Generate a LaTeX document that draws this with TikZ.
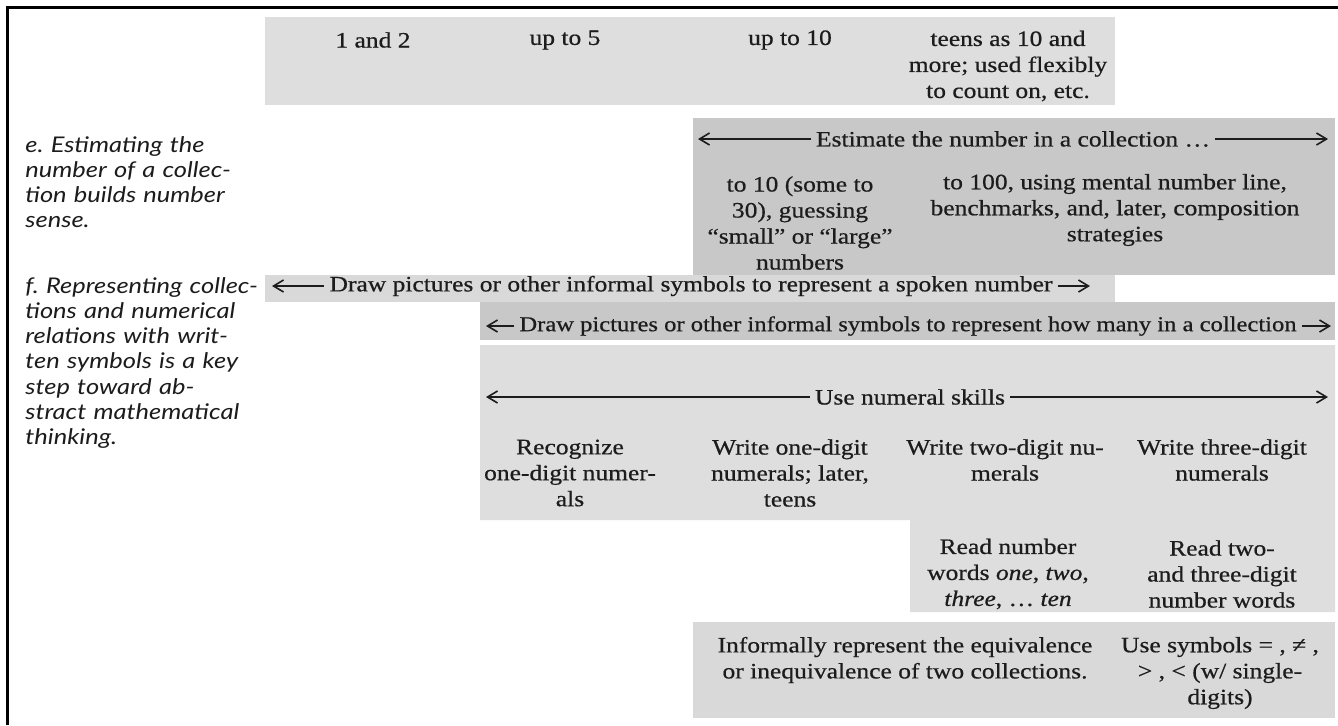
\documentclass[tikz,border=0pt]{standalone}
\usepackage{fontspec}
\setmainfont{Liberation Serif}[FakeStretch=1.16,FakeBold=0.6]
\newfontfamily\labfont{Lato}[FakeStretch=1.18]
\usetikzlibrary{arrows.meta}
\definecolor{bandA}{HTML}{DEDEDE}
\definecolor{bandB}{HTML}{C8C8C8}
\definecolor{bandC}{HTML}{D9D9D9}
\definecolor{ink}{HTML}{1C1C1C}
\tikzset{
  band/.style={fill=#1, draw=none},
  txt/.style={align=center, text=ink, font=\fontsize{11}{13}\selectfont, inner sep=0pt},
  arrtxt/.style={txt, inner xsep=2.5pt},
  lab/.style={align=left, text=ink, font=\labfont\itshape\fontsize{10.8}{12.6}\selectfont, inner sep=0pt, anchor=north west, text width=130pt},
  arr/.style={draw=ink, line width=0.8pt, -{Straight Barb[length=5pt,width=6pt]}},
}
\begin{document}
\begin{tikzpicture}[x=0.5pt,y=-0.5pt]
\useasboundingbox (0,0) rectangle (1338,725);
\fill[white] (0,0) rectangle (1338,725);
% frame (top and left edges)
\draw[line width=1.5pt] (1338,7) -- (7,7) -- (7,725);

% bands
\fill[band=bandA] (265,17) rectangle (1115,105);
\fill[band=bandB] (693,118) rectangle (1335,275);
\fill[band=bandC] (265,275) rectangle (1115,302);
\fill[band=bandB] (480,302) rectangle (1335,340);
\fill[band=bandA] (480,345) -- (1335,345) -- (1335,612) -- (910,612) -- (910,520) -- (480,520) -- cycle;
\fill[band=bandC] (693,622) rectangle (1335,718);

% top row
\node[txt] (t1) at (373,40) {1 and 2};
\node[txt] (t2) at (565,40) {up to 5};
\node[txt] (t3) at (790,40) {up to 10};
\node[txt] (t4) at (1008,66) {teens as 10 and\\more; used flexibly\\to count on, etc.};

% row e
\node[lab] (le) at (25,136) {\hangindent=1.05em\hangafter=1 e.\ Estimating the\\number of a collec-\\tion builds number\\sense.};
\node[arrtxt] (eT) at (1013,139) {Estimate the number in a collection \ldots};
\coordinate (eL) at (698,139);
\coordinate (eR) at (1328,139);
\draw[arr] (eT.west) -- (eL);
\draw[arr] (eT.east) -- (eR);
\node[txt] (e1) at (800,223) {to 10 (some to\\30), guessing\\“small” or “large”\\numbers};
\node[txt] (e2) at (1115,210) {to 100, using mental number line,\\benchmarks, and, later, composition\\strategies};

% row f
\node[lab] (lf) at (25,277) {\hangindent=1.05em\hangafter=1 f.\ Representing collec-\\tions and numerical\\relations with writ-\\ten symbols is a key\\step toward ab-\\stract mathematical\\thinking.};

\node[arrtxt] (f1T) at (691,286) {Draw pictures or other informal symbols to represent a spoken number};
\coordinate (f1L) at (272,286);
\coordinate (f1R) at (1090,286);
\draw[arr] (f1T.west) -- (f1L);
\draw[arr] (f1T.east) -- (f1R);

\node[arrtxt, font=\fontsize{10.6}{13}\selectfont] (f2T) at (908,326) {Draw pictures or other informal symbols to represent how many in a collection};
\coordinate (f2L) at (486,326);
\coordinate (f2R) at (1331,326);
\draw[arr] (f2T.west) -- (f2L);
\draw[arr] (f2T.east) -- (f2R);

\node[arrtxt] (f3T) at (910,397) {Use numeral skills};
\coordinate (f3L) at (486,397);
\coordinate (f3R) at (1328,397);
\draw[arr] (f3T.west) -- (f3L);
\draw[arr] (f3T.east) -- (f3R);

\node[txt] (n1) at (570,473) {Recognize\\one-digit numer-\\als};
\node[txt] (n2) at (790,473) {Write one-digit\\numerals; later,\\teens};
\node[txt] (n3) at (1005,460) {Write two-digit nu-\\merals};
\node[txt] (n4) at (1222,460) {Write three-digit\\numerals};
\node[txt] (r1) at (1008,574) {Read number\\words \textit{one}, \textit{two},\\\textit{three}, \ldots\ \textit{ten}};
\node[txt] (r2) at (1222,574) {Read two-\\and three-digit\\number words};

\node[txt] (b1) at (905,660) {Informally represent the equivalence\\or inequivalence of two collections.};
\node[txt] (b2) at (1220,673) {Use symbols = , ≠ ,\\> , < (w/ single-\\digits)};
\end{tikzpicture}
\end{document}
